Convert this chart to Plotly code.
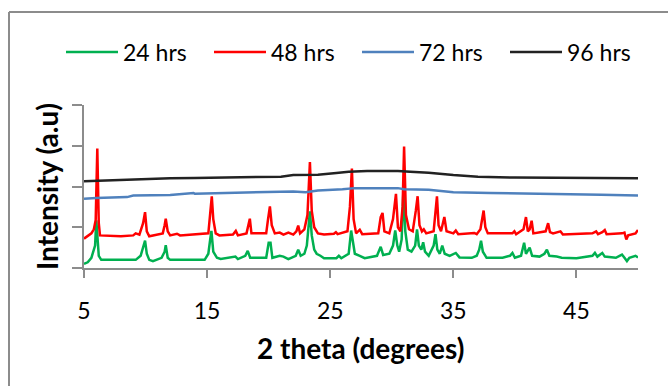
import plotly.graph_objects as go

# ---------------- data (arbitrary intensity units) ----------------
series_names = ["24 hrs", "48 hrs", "72 hrs", "96 hrs"]

x_24 = [5.0, 5.3, 5.6, 5.8, 5.9, 6.0, 6.1, 6.2, 6.4, 7.5, 8.0, 9.2, 9.6, 9.85, 9.96, 10.1, 10.3,
        10.6, 11.3, 11.55, 11.64, 11.8, 12.0, 14.8, 15.1, 15.25, 15.35, 15.5, 15.8, 16.1, 17.3,
        17.5, 18.1, 18.3, 18.5, 19.8, 20.0, 20.15, 20.3, 20.9, 21.2, 21.6, 22.2, 22.4, 22.6,
        22.9, 23.1, 23.35, 23.5, 23.7, 23.9, 24.2, 24.5, 25.5, 25.7, 25.9, 26.5, 26.7, 26.85,
        27.0, 27.4, 27.8, 28.8, 29.1, 29.3, 29.8, 30.1, 30.28, 30.45, 30.6, 30.8, 30.95, 31.1,
        31.3, 31.6, 31.9, 32.05, 32.2, 32.4, 32.55, 32.7, 33.0, 33.4, 33.55, 33.7, 33.9, 34.1,
        34.3, 34.7, 35.2, 35.5, 36.5, 36.9, 37.1, 37.25, 37.4, 37.7, 39.0, 39.6, 39.8, 40.0,
        40.5, 40.75, 40.9, 41.2, 41.4, 42.0, 42.4, 42.6, 42.8, 43.4, 43.8, 45.0, 46.3, 46.5,
        46.7, 47.1, 47.3, 48.2, 48.7, 48.9, 49.1, 49.3, 49.8, 50.0]
y_24 = [0.10, 0.14, 0.25, 0.45, 0.55, 1.17, 0.60, 0.30, 0.20, 0.20, 0.20, 0.20, 0.30, 0.55, 0.67, 0.35, 0.20,
        0.17, 0.25, 0.40, 0.56, 0.25, 0.20, 0.20, 0.35, 0.70, 0.91, 0.40, 0.25, 0.22, 0.28,
        0.22, 0.30, 0.42, 0.25, 0.25, 0.62, 0.62, 0.25, 0.30, 0.28, 0.22, 0.30, 0.45, 0.30,
        0.35, 0.55, 1.39, 0.80, 0.45, 0.35, 0.30, 0.24, 0.24, 0.30, 0.24, 0.35, 0.92, 0.60,
        0.35, 0.30, 0.24, 0.30, 0.52, 0.32, 0.35, 0.55, 0.92, 0.55, 0.40, 0.70, 1.95, 0.90,
        0.45, 0.40, 0.55, 0.95, 0.55, 0.45, 0.63, 0.40, 0.30, 0.55, 0.83, 0.45, 0.35, 0.55,
        0.35, 0.30, 0.37, 0.26, 0.25, 0.30, 0.45, 0.67, 0.40, 0.25, 0.25, 0.30, 0.37, 0.25,
        0.30, 0.62, 0.35, 0.50, 0.30, 0.28, 0.35, 0.45, 0.30, 0.28, 0.25, 0.24, 0.30, 0.37,
        0.28, 0.37, 0.28, 0.25, 0.33, 0.25, 0.17, 0.25, 0.30, 0.26]

x_48 = [5.0, 5.3, 5.6, 5.8, 5.95, 6.08, 6.2, 6.3, 8.0, 9.0, 9.2, 9.5, 9.8, 9.96, 10.1, 10.3, 11.4,
        11.55, 11.64, 11.8, 12.0, 12.55, 12.8, 15.1, 15.25, 15.38, 15.5, 15.7, 16.0, 17.1, 17.33,
        17.5, 18.2, 18.35, 18.47, 18.6, 19.8, 19.95, 20.1, 20.25, 20.5, 20.9, 21.2, 21.6, 22.0,
        22.25, 22.4, 22.55, 22.9, 23.15, 23.35, 23.5, 23.7, 24.0, 24.5, 25.3, 25.46, 25.6, 26.4,
        26.6, 26.76, 26.9, 27.1, 27.4, 27.6, 28.9, 29.1, 29.25, 29.4, 29.8, 30.1, 30.34, 30.5,
        30.7, 30.88, 31.0, 31.15, 31.4, 31.7, 31.95, 32.1, 32.25, 32.45, 32.6, 32.8, 33.4, 33.55,
        33.67, 33.8, 34.0, 34.27, 34.45, 35.0, 35.2, 35.4, 36.5, 36.7, 36.9, 37.2, 37.46, 37.6,
        37.8, 38.9, 39.05, 39.8, 39.96, 40.1, 40.7, 40.9, 41.05, 41.2, 41.36, 41.5, 42.5, 42.7,
        42.85, 43.1, 43.7, 43.9, 46.3, 46.6, 46.75, 47.1, 47.3, 47.45, 48.7, 48.9, 49.05, 49.2,
        49.8, 49.98, 50.0]
y_48 = [0.72, 0.78, 0.85, 0.95, 1.18, 2.93, 1.10, 0.80, 0.78, 0.80, 0.85, 0.82, 1.10, 1.37, 0.90, 0.78, 0.85,
        1.05, 1.21, 0.90, 0.80, 0.84, 0.80, 0.85, 1.30, 1.76, 1.20, 0.85, 0.80, 0.82, 0.91,
        0.80, 0.85, 1.05, 1.21, 0.85, 0.85, 1.20, 1.51, 1.05, 0.85, 0.87, 0.82, 0.87, 0.82,
        0.90, 1.04, 0.85, 0.95, 1.30, 2.60, 1.40, 1.00, 0.85, 0.82, 0.84, 0.88, 0.83, 0.90,
        1.50, 2.44, 1.20, 0.85, 0.94, 0.83, 0.85, 1.25, 1.35, 0.90, 0.85, 1.20, 1.82, 1.00,
        0.90, 1.50, 2.98, 1.30, 0.95, 0.90, 1.40, 1.76, 1.05, 0.90, 0.95, 0.85, 0.90, 1.40,
        1.76, 1.05, 0.90, 1.25, 0.90, 0.85, 0.92, 0.83, 0.85, 0.86, 0.83, 0.95, 1.41, 1.00,
        0.85, 0.85, 0.85, 0.85, 0.90, 0.83, 0.95, 1.25, 0.90, 0.95, 1.16, 0.85, 0.90, 1.10,
        0.88, 0.85, 0.90, 0.82, 0.85, 0.90, 0.83, 0.88, 0.93, 0.83, 0.85, 0.87, 0.70, 0.80,
        0.85, 0.93, 0.90]

x_72 = [5.0, 5.6, 6.0, 8.5, 9.0, 12.0, 13.9, 14.0, 17.0, 19.5, 22.0, 23.0, 24.0, 26.0, 27.0,
        30.5, 31.0, 33.0, 35.0, 38.0, 41.0, 44.0, 47.0, 50.0]
y_72 = [1.70, 1.72, 1.72, 1.74, 1.78, 1.79, 1.84, 1.82, 1.84, 1.86, 1.88, 1.86, 1.90, 1.93, 1.96,
        1.96, 1.93, 1.92, 1.86, 1.84, 1.83, 1.81, 1.80, 1.78]

x_96 = [5.0, 7.0, 8.0, 10.0, 12.0, 14.0, 18.0, 21.0, 22.0, 24.0, 25.5, 26.5, 28.0, 30.5, 31.5,
        33.0, 35.0, 37.0, 40.0, 44.0, 47.0, 50.0]
y_96 = [2.13, 2.15, 2.17, 2.18, 2.20, 2.21, 2.22, 2.24, 2.28, 2.29, 2.33, 2.36, 2.38, 2.38, 2.36,
        2.34, 2.28, 2.24, 2.22, 2.21, 2.20, 2.20]

x_ticks = [5, 15, 25, 35, 45]
y_ticks = [0, 1, 2, 3, 4]

# ---------------- figure ----------------
FONT = "Lato, Carlito, Calibri, sans-serif"
colors = ["#00B050", "#FF0000", "#4F81BD", "#222222"]
xs = [x_24, x_48, x_72, x_96]
ys = [y_24, y_48, y_72, y_96]

fig = go.Figure()
for name, x, y, c in zip(series_names, xs, ys, colors):
    fig.add_trace(go.Scatter(x=x, y=y, mode="lines", name=name,
                             line=dict(color=c, width=2.5)))

W, H = 668, 386
L, R, T, B = 84, 30, 105, 118
pw, ph = W - L - R, H - T - B

def px(xp):
    return (xp - L) / pw

def py(yp):
    return (H - B - yp) / ph

axis_col = "#8C8C8C"
fig.update_layout(
    width=W, height=H,
    margin=dict(l=L, r=R, t=T, b=B, pad=0),
    paper_bgcolor="white", plot_bgcolor="white",
    font=dict(family=FONT, size=22, color="#000000"),
    showlegend=True,
    legend=dict(orientation="h", x=px(61), xanchor="left", y=py(52), yanchor="middle",
                font=dict(size=23, family=FONT), itemwidth=52,
                entrywidth=81, entrywidthmode="pixels",
                bgcolor="rgba(0,0,0,0)", tracegroupgap=0),
    xaxis=dict(range=[5, 50], tickvals=x_ticks, ticktext=[str(v) for v in x_ticks],
               showline=True, linecolor=axis_col, linewidth=2, ticks="outside",
               ticklen=8, tickwidth=2, tickcolor=axis_col, showgrid=False, zeroline=False,
               tickfont=dict(size=23, family=FONT), ticklabelstandoff=13),
    yaxis=dict(range=[0, 4], tickvals=y_ticks, showticklabels=False,
               showline=True, linecolor=axis_col, linewidth=2, ticks="outside",
               ticklen=10, tickwidth=2, tickcolor=axis_col, showgrid=False, zeroline=False),
    annotations=[
        dict(text="<b>Intensity (a.u)</b>", textangle=-90, xref="paper", yref="paper",
             x=px(47), y=py(187), xanchor="center", yanchor="middle", showarrow=False,
             font=dict(size=28, family=FONT)),
        dict(text="<b>2 theta (degrees)</b>", xref="paper", yref="paper",
             x=px(360), y=py(348), xanchor="center", yanchor="middle", showarrow=False,
             font=dict(size=28, family=FONT)),
    ],
    shapes=[
        dict(type="line", xref="paper", yref="paper", x0=px(9), x1=px(720), y0=py(12), y1=py(12),
             line=dict(color="#8C8C8C", width=2)),
        dict(type="line", xref="paper", yref="paper", x0=px(9), x1=px(9), y0=py(12), y1=py(420),
             line=dict(color="#8C8C8C", width=2)),
    ],
)

fig.write_html("out.html")
